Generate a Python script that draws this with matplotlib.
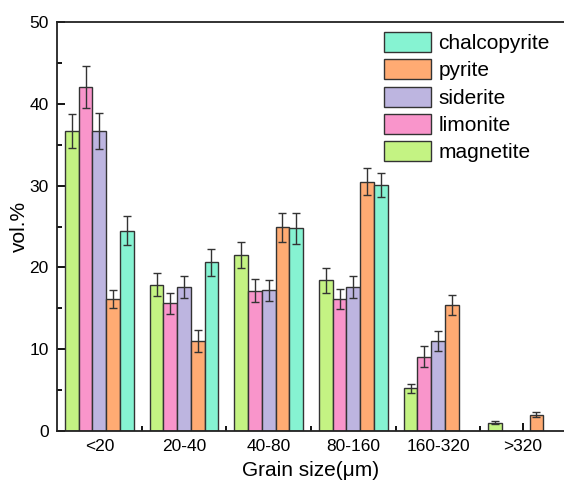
import matplotlib
matplotlib.use("Agg")
import matplotlib.pyplot as plt
from matplotlib.ticker import MultipleLocator, FixedLocator
import numpy as np

plt.rcParams['font.family'] = ['Liberation Sans', 'DejaVu Sans']

categories = ['<20', '20-40', '40-80', '80-160', '160-320', '>320']
series = ['magnetite', 'limonite', 'siderite', 'pyrite', 'chalcopyrite']
magnetite = [36.7, 17.9, 21.5, 18.4, 5.2, 1.0]
limonite = [42.05, 15.6, 17.15, 16.1, 9.1, 0.0]
siderite = [36.7, 17.6, 17.2, 17.6, 11.0, 0.0]
pyrite = [16.1, 11.0, 24.9, 30.5, 15.4, 2.0]
chalcopyrite = [24.5, 20.6, 24.8, 30.1, 0.0, 0.0]
magnetite_err = [2.1, 1.4, 1.6, 1.5, 0.5, 0.2]
limonite_err = [2.6, 1.3, 1.4, 1.2, 1.3, 0.0]
siderite_err = [2.2, 1.4, 1.3, 1.4, 1.2, 0.0]
pyrite_err = [1.1, 1.4, 1.8, 1.6, 1.2, 0.3]
chalcopyrite_err = [1.8, 1.6, 1.9, 1.5, 0.0, 0.0]

values = [magnetite, limonite, siderite, pyrite, chalcopyrite]
errors = [magnetite_err, limonite_err, siderite_err, pyrite_err, chalcopyrite_err]
colors = ['#C4F383', '#F995CB', '#BDB5E0', '#FFAB73', '#86F3D2']

fig = plt.figure(figsize=(5.64, 4.8), dpi=100)
ax = fig.add_axes([57/564, 49/480, 508/564, 409/480])

x = np.arange(len(categories))
w = 0.162
handles = []
for i, (name, vals, errs, c) in enumerate(zip(series, values, errors, colors)):
    pos = x + (i - 2) * w
    vals = np.array(vals)
    errs = np.array(errs)
    mask = vals > 0
    b = ax.bar(pos[mask], vals[mask], width=w, color=c, edgecolor='#333333',
               linewidth=1.0, label=name, zorder=2)
    ax.errorbar(pos[mask], vals[mask], yerr=errs[mask], fmt='none',
                ecolor='#333333', elinewidth=1.0, capsize=3, capthick=1.0, zorder=3)
    handles.append(b)

ax.set_xlim(-0.5, 5.5)
ax.set_ylim(0, 50)
ax.set_xticks(x)
ax.set_xticklabels(categories)
ax.xaxis.set_minor_locator(FixedLocator(x[:-1] + 0.5))
ax.yaxis.set_major_locator(MultipleLocator(10))
ax.yaxis.set_minor_locator(MultipleLocator(5))
ax.tick_params(axis='both', which='major', direction='in', length=6, width=1.3,
               labelsize=12.5, colors='black', pad=6)
ax.tick_params(axis='both', which='minor', direction='in', length=3.5, width=1.3)
ax.tick_params(top=False, right=False, which='both')
for s in ax.spines.values():
    s.set_linewidth(1.3)
    s.set_color('#222222')

ax.set_xlabel('Grain size(\u03bcm)', fontsize=15, labelpad=5)
ax.set_ylabel('vol.%', fontsize=15, labelpad=0)

leg = ax.legend(handles[::-1], series[::-1], loc='upper left',
                bbox_to_anchor=((384-57)/508, (431-32)/409),
                frameon=False, fontsize=15, borderpad=0, borderaxespad=0,
                handlelength=2.26, handleheight=1.1, handletextpad=0.35,
                labelspacing=0.3)

fig.savefig('out.png', dpi=100)
